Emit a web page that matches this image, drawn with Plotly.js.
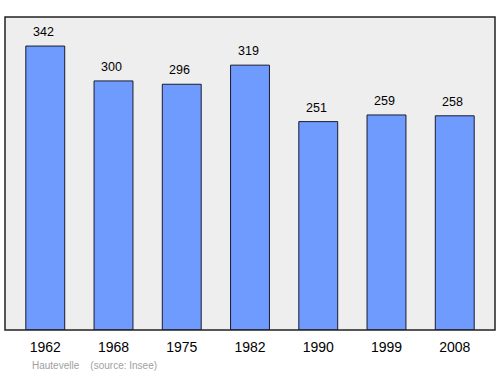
<!DOCTYPE html>
<html><head><meta charset="utf-8">
<script src="https://cdn.plot.ly/plotly-3.0.1.min.js"></script>
<style>body{margin:0;padding:0;}#c{width:500px;height:374px;}</style>
</head><body><div id="c"></div>
<script>
const years = ["1962","1968","1975","1982","1990","1999","2008"];
const population = [342,300,296,319,251,259,258];
const commune = "Hautevelle";
const source = "(source: Insee)";

const trace = {
  type: "bar",
  x: years,
  y: population,
  width: 0.57,
  marker: {color: "#6f9bff", line: {color: "#1a1a2e", width: 1}},
  hoverinfo: "none"
};
const annotations = years.map((yr, i) => ({
  x: i, y: population[i], xref: "x", yref: "y",
  text: String(population[i]), showarrow: false,
  yanchor: "bottom", yshift: 5, xshift: -2,
  font: {family: "Liberation Sans, Arial, sans-serif", size: 12.5, color: "#000"}
}));
annotations.push({
  xref: "paper", yref: "paper", x: 0.05, y: -0.112, xanchor: "left", yanchor: "middle",
  text: commune + "    " + source, showarrow: false,
  font: {family: "Liberation Sans, Arial, sans-serif", size: 10, color: "#a0a0a0"}
});
const layout = {
  width: 500, height: 374,
  margin: {l: 5, r: 5, t: 17, b: 44},
  paper_bgcolor: "#ffffff",
  plot_bgcolor: "#eeeeee",
  showlegend: false,
  xaxis: {type: "category", range: [-0.59, 6.59], showgrid: false, zeroline: false,
    ticks: "", showline: false, ticklabelstandoff: 7,
    tickfont: {family: "Liberation Sans, Arial, sans-serif", size: 14, color: "#000"}},
  yaxis: {range: [0, 377], showgrid: false, zeroline: false, showticklabels: false, ticks: "", showline: false},
  shapes: [{type: "rect", xref: "paper", yref: "paper", x0: 0, x1: 1, y0: 0, y1: 1,
    line: {color: "#222", width: 1.5}, fillcolor: "rgba(0,0,0,0)"}],
  annotations: annotations
};
Plotly.newPlot("c", [trace], layout, {displayModeBar: false, staticPlot: true});
</script></body></html>
